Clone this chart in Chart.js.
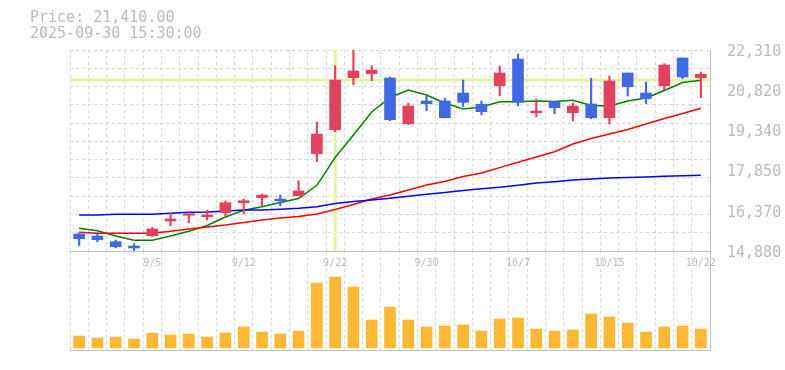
<!DOCTYPE html>
<html>
<head>
<meta charset="utf-8">
<script src="https://cdn.jsdelivr.net/npm/chart.js"></script>
<style>
  body { margin: 0; background: #fff; }
  #wrap { position: relative; width: 785px; height: 370px; }
  #info { position: absolute; left: 30px; top: 10px; font: 15px/15.5px 'DejaVu Sans Mono', monospace; color: #bbb; white-space: pre; }
  #price { position: absolute; left: 0; top: 0; }
  #vol { position: absolute; left: 0; top: 251px; }
</style>
</head>
<body>
<div id="wrap">
  <canvas id="vol" width="785" height="119"></canvas>
  <canvas id="price" width="785" height="275"></canvas>
  <div id="info">Price: 21,410.00
2025-09-30 15:30:00</div>
</div>
<script>
// trading days 9/1 - 10/22
var dates = ['9/1','9/2','9/3','9/4','9/5','9/8','9/9','9/10','9/11','9/12',
             '9/16','9/17','9/18','9/19','9/22','9/24','9/25','9/26','9/29','9/30',
             '10/1','10/2','10/3','10/6','10/7','10/8','10/9','10/10','10/14','10/15',
             '10/16','10/17','10/20','10/21','10/22'];
var xTickLabels = ['9/5','9/12','9/22','9/30','10/7','10/15','10/22'];

var open  = [15510,15435,15225,15065,15445,15990,16200,16150,16295,16665,
             16850,16800,16925,18475,19365,21285,21435,21275,19585,20425,
             20425,20720,20305,20990,21975,19990,20400,19990,20315,19805,
             21460,20720,20990,22015,21285];
var high  = [15530,15535,15285,15150,15755,16275,16335,16385,16730,16800,
             16985,16950,17470,19650,21730,22300,21730,21310,20340,20620,
             20525,21200,20425,21720,22160,20490,20410,20350,21265,21350,
             21460,21125,21805,22015,21495];
var low   = [15080,15225,15000,14890,15410,15815,15925,16025,16175,16250,
             16555,16555,16920,18180,19290,21030,21175,19700,19550,20065,
             19800,20215,19920,20620,20250,19845,19955,19685,19770,19575,
             20610,20325,20830,21250,20545];
var close = [15335,15300,15040,14990,15695,16065,16260,16210,16665,16740,
             16950,16730,17100,19205,21200,21535,21570,19735,20240,20325,
             19805,20375,20030,21460,20375,20055,20175,20240,19805,21165,
             20955,20510,21755,21310,21410];

var ma5  = [15719,15627,15435,15276,15276,15435,15608,15823,16137,16385,
            16518,16673,16821,17309,18336,19168,20018,20554,20831,20647,
            20351,20129,20203,20399,20399,20425,20406,20454,20258,20240,
            20425,20536,20813,21109,21194];
var ma25 = [15571,15534,15534,15534,15534,15608,15693,15767,15841,15934,
            16026,16100,16155,16248,16414,16599,16802,16950,17135,17320,
            17449,17634,17763,17963,18159,18355,18551,18835,19039,19205,
            19371,19575,19778,19963,20155];
var ma75 = [16211,16211,16237,16237,16237,16274,16311,16322,16359,16396,
            16396,16421,16458,16518,16636,16710,16765,16828,16902,16980,
            17042,17116,17179,17235,17309,17394,17442,17505,17542,17578,
            17597,17615,17641,17660,17678];

var volume = [120,100,110,90,150,130,140,110,150,210,
              160,140,170,650,710,610,280,410,280,210,
              220,230,170,290,300,190,170,180,340,310,
              250,160,210,220,190];

var yMin = 14880, yMax = 22310;
var yTickValues = [14880,16366,17852,19338,20824,22310];
var yTickLabels = ['14,880','16,370','17,850','19,340','20,820','22,310'];

var crossDate = '9/22';
var crossPrice = 21200;

var upColor = '#e1435f';
var downColor = '#4169e1';
var gridColor = '#d9d9d9';
var axisColor = '#c0c0c0';
var labelColor = '#bbbbbb';

Chart.defaults.font.family = "'DejaVu Sans Mono', monospace";

var candleColors = close.map(function(c, i){ return c >= open[i] ? upColor : downColor; });
var bodies = open.map(function(o, i){ return [o, close[i]]; });
var wicks = low.map(function(l, i){ return [l, high[i]]; });

var crosshair = {
  id: 'crosshair',
  beforeDatasetsDraw: function(chart){
    var ctx = chart.ctx, a = chart.chartArea;
    var x = chart.scales.x.getPixelForValue(dates.indexOf(crossDate));
    var y = chart.scales.y.getPixelForValue(crossPrice);
    ctx.save();
    ctx.strokeStyle = '#e3f3a6';
    ctx.lineWidth = 3;
    ctx.beginPath();
    ctx.moveTo(a.left, y); ctx.lineTo(a.right, y);
    ctx.moveTo(x, a.top); ctx.lineTo(x, a.bottom);
    ctx.stroke();
    ctx.restore();
  }
};

function maLine(data, color){
  return { type: 'line', data: data, borderColor: color, borderWidth: 1.5,
           pointRadius: 0, tension: 0, fill: false, order: 1 };
}

new Chart(document.getElementById('price'), {
  type: 'bar',
  data: {
    labels: dates,
    datasets: [
      maLine(ma75, '#0000ff'),
      maLine(ma25, '#ff0000'),
      maLine(ma5, '#008000'),
      { data: wicks, backgroundColor: candleColors, barThickness: 1.5, grouped: false, order: 0 },
      { data: bodies, backgroundColor: candleColors, barThickness: 11, grouped: false, minBarLength: 1.5, order: 0 }
    ]
  },
  options: {
    responsive: false,
    animation: false,
    events: [],
    layout: { padding: { left: 70, top: 50, right: 0, bottom: 0 } },
    plugins: { legend: { display: false }, tooltip: { enabled: false } },
    scales: {
      x: {
        offset: true,
        grid: { offset: true, color: gridColor, drawTicks: false },
        border: { color: axisColor, dash: [3, 3] },
        ticks: {
          autoSkip: false, maxRotation: 0, padding: 6, color: labelColor, font: { size: 10 },
          callback: function(v, i){ return xTickLabels.indexOf(dates[i]) >= 0 ? dates[i] : ''; }
        },
        afterFit: function(s){ s.height = 24; }
      },
      yg: {
        position: 'left', min: yMin, max: yMax,
        ticks: { display: false },
        grid: { color: gridColor, drawTicks: false },
        border: { display: false, dash: [3, 3] },
        afterBuildTicks: function(s){
          var t = [];
          for (var k = 0; k <= 11; k++) t.push({ value: yMin + k * (yMax - yMin) / 11 });
          s.ticks = t;
        },
        afterFit: function(s){ s.width = 0; }
      },
      y: {
        position: 'right', min: yMin, max: yMax,
        grid: { display: false },
        border: { color: axisColor },
        ticks: {
          padding: 9, labelOffset: 2, color: labelColor, font: { size: 15 },
          callback: function(v, i){ return yTickLabels[i]; }
        },
        afterBuildTicks: function(s){
          s.ticks = yTickValues.map(function(v){ return { value: v }; });
        },
        afterFit: function(s){ s.width = 75; }
      }
    }
  },
  plugins: [crosshair]
});

new Chart(document.getElementById('vol'), {
  type: 'bar',
  data: {
    labels: dates,
    datasets: [{ data: volume, backgroundColor: '#ffb833', barThickness: 11 }]
  },
  options: {
    responsive: false,
    animation: false,
    events: [],
    layout: { padding: { left: 70, top: 0, right: 0, bottom: 0 } },
    plugins: { legend: { display: false }, tooltip: { enabled: false } },
    scales: {
      x: {
        grid: { offset: true, color: gridColor, drawTicks: false },
        border: { color: axisColor, dash: [3, 3] },
        ticks: { display: false },
        afterFit: function(s){ s.height = 20; }
      },
      y: {
        position: 'right', min: -20, max: 970,
        grid: { display: false },
        border: { color: axisColor },
        ticks: { display: false },
        afterFit: function(s){ s.width = 75; }
      }
    }
  }
});
</script>
</body>
</html>
